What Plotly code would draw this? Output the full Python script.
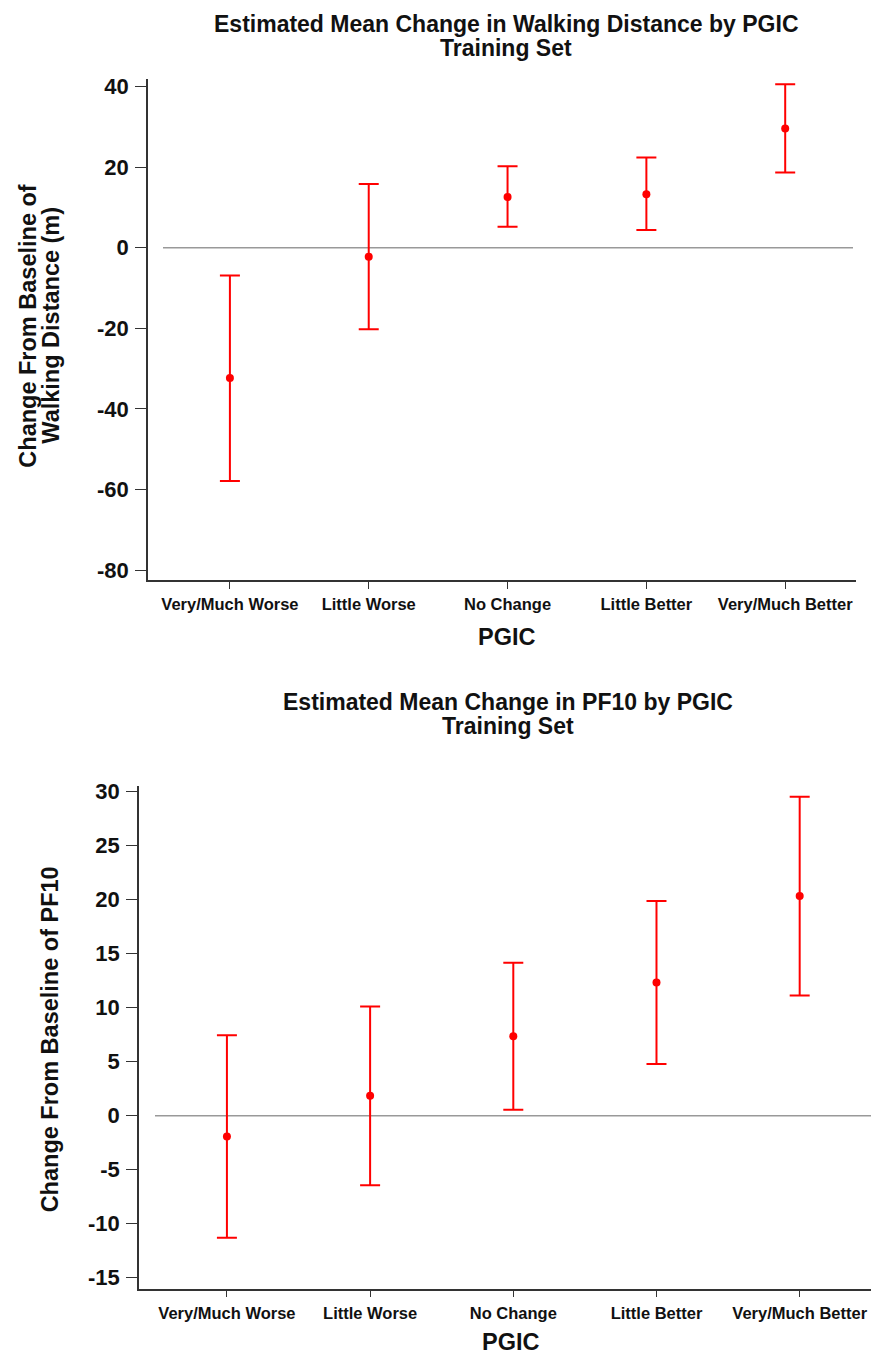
import plotly.graph_objects as go

# page has an 8px body margin; figure is sized so page px p maps to figure px p-8
OFF = 8
W, H = 879 - OFF, 1359 - OFF

categories = ["Very/Much Worse", "Little Worse", "No Change", "Little Better", "Very/Much Better"]

walk_mean = [-32.3, -2.2, 12.6, 13.3, 29.6]
walk_upper = [-6.9, 15.8, 20.2, 22.4, 40.6]
walk_lower = [-57.9, -20.2, 5.2, 4.4, 18.7]

pf10_mean = [-1.93, 1.84, 7.36, 12.33, 20.33]
pf10_upper = [7.45, 10.12, 14.17, 19.87, 29.53]
pf10_lower = [-11.3, -6.44, 0.55, 4.78, 11.13]

walk_ticks = [-80, -60, -40, -20, 0, 20, 40]
pf10_ticks = [-15, -10, -5, 0, 5, 10, 15, 20, 25, 30]

FONT = "Liberation Sans"
RED = "#ff0000"

def px_x(p):
    return (p - OFF) / W

def px_y(p):
    return 1 - (p - OFF) / H

fig = go.Figure()

idx = list(range(len(categories)))

def add_series(mean, up, lo, xa, ya):
    fig.add_trace(go.Scatter(
        x=idx, y=mean, mode="markers", xaxis=xa, yaxis=ya,
        marker=dict(color=RED, size=8),
        error_y=dict(type="data", symmetric=False,
                     array=[u - m for u, m in zip(up, mean)],
                     arrayminus=[m - l for m, l in zip(mean, lo)],
                     color=RED, thickness=2, width=10),
        showlegend=False, hoverinfo="skip"))

add_series(walk_mean, walk_upper, walk_lower, "x", "y")
add_series(pf10_mean, pf10_upper, pf10_lower, "x2", "y2")

common_x = dict(
    tickmode="array", tickvals=idx, ticktext=categories,
    showgrid=False, zeroline=False, showline=True, linecolor="#333", linewidth=1.5,
    ticks="outside", ticklen=7, tickcolor="#333", tickwidth=1.2, ticklabelstandoff=2,
    tickfont=dict(family=FONT, size=16.5, color="#111", weight="bold"),
)
common_y = dict(
    showgrid=False, zeroline=False, showline=True, linecolor="#333", linewidth=1.5,
    ticks="outside", ticklen=11, tickcolor="#333", tickwidth=1.2, ticklabelstandoff=2,
    tickfont=dict(family=FONT, size=22, color="#111", weight="bold"),
)

fig.update_layout(
    width=W, height=H, margin=dict(l=0, r=0, t=0, b=0),
    paper_bgcolor="white", plot_bgcolor="white",
    xaxis=dict(domain=[px_x(148), px_x(856)], range=[-0.59, 4.51], anchor="y", **common_x),
    yaxis=dict(domain=[px_y(577), px_y(72)], range=[-82.4, 42.0], anchor="x",
               tickmode="array", tickvals=walk_ticks, ticktext=[str(t) for t in walk_ticks],
               **common_y),
    xaxis2=dict(domain=[px_x(139), px_x(877)], range=[-0.614, 4.54], anchor="y2", **common_x),
    yaxis2=dict(domain=[px_y(1291), px_y(785)], range=[-16.0, 30.5], anchor="x2",
                tickmode="array", tickvals=pf10_ticks, ticktext=[str(t) for t in pf10_ticks],
                **common_y),
)

# zero reference lines
fig.add_shape(type="line", xref="paper", yref="y", x0=px_x(163), x1=px_x(853), y0=0, y1=0,
              line=dict(color="#999999", width=1.5), layer="below")
fig.add_shape(type="line", xref="paper", yref="y2", x0=px_x(155), x1=px_x(874), y0=0, y1=0,
              line=dict(color="#999999", width=1.5), layer="below")

def ann(text, x, y, size, angle=0):
    fig.add_annotation(text=text, x=px_x(x), y=px_y(y), xref="paper", yref="paper",
                       showarrow=False, textangle=angle, xanchor="center", yanchor="middle",
                       font=dict(family=FONT, size=size, color="#111", weight="bold"))

ann("Estimated Mean Change in Walking Distance by PGIC", 506, 17, 23)
ann("Training Set", 506, 41, 23)
ann("PGIC", 506, 635, 23.5)
ann("Change From Baseline of", 28, 321, 23.5, -90)
ann("Walking Distance (m)", 51, 321, 23.5, -90)

ann("Estimated Mean Change in PF10 by PGIC", 508, 700, 23)
ann("Training Set", 508, 724, 23)
ann("PGIC", 510, 1345, 23.5)
ann("Change From Baseline of PF10", 50, 1040, 23.5, -90)

fig.write_html("out.html")
